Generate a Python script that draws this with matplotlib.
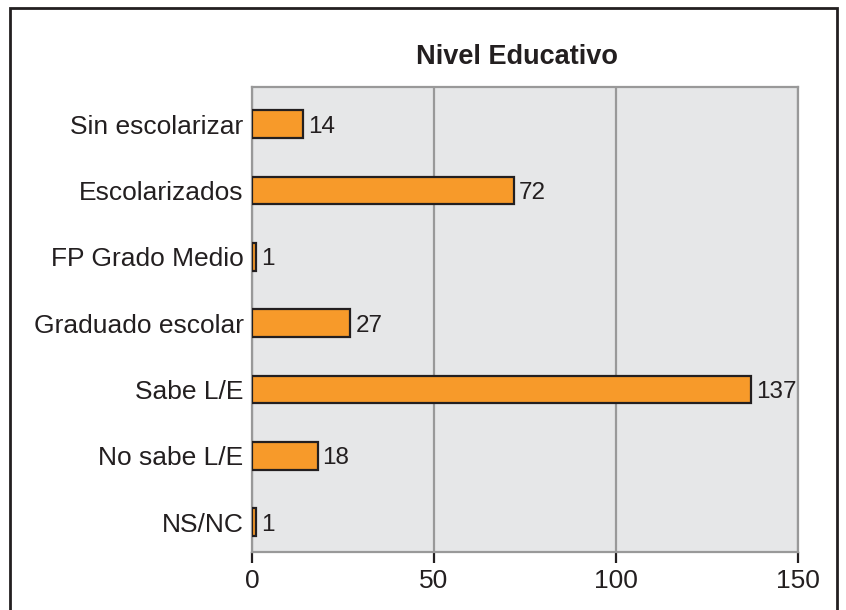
import matplotlib
matplotlib.use("Agg")
import matplotlib.pyplot as plt
from matplotlib.patches import Rectangle

categories = ["Sin escolarizar", "Escolarizados", "FP Grado Medio", "Graduado escolar",
              "Sabe L/E", "No sabe L/E", "NS/NC"]
values = [14, 72, 1, 27, 137, 18, 1]
xticks = [0, 50, 100, 150]
title = "Nivel Educativo"

plt.rcParams['font.family'] = ['Liberation Sans', 'DejaVu Sans']

W, H = 846, 610
fig = plt.figure(figsize=(W/100, H/100), dpi=100)
fig.patch.set_facecolor("white")

left, right, top, bottom = 252, 798, 87, 552
ax = fig.add_axes([left/W, 1-bottom/H, (right-left)/W, (bottom-top)/H])
ax.set_facecolor("#E6E7E8")

FS = 19
y = list(range(len(categories)))
ax.barh(y, values, height=0.42, color="#F79A2A", edgecolor="#231F20", linewidth=1.6, zorder=3)
for yi, v in zip(y, values):
    ax.text(v + 1.4, yi, str(v), va="center_baseline", ha="left", fontsize=17.5, color="#231F20", zorder=4)

ax.set_xlim(0, 150)
ax.set_ylim(6.45, -0.56)
ax.set_yticks(y)
ax.set_yticklabels(categories, fontsize=FS, color="#231F20", va="center_baseline")
ax.tick_params(axis="y", length=0, pad=6)
ax.set_xticks(xticks)
ax.set_xticklabels([str(t) for t in xticks], fontsize=FS, color="#231F20")
ax.tick_params(axis="x", length=8, width=1.6, color="#231F20", pad=4, direction="out")
ax.grid(axis="x", color="#999999", linewidth=1.6, zorder=1)
ax.set_axisbelow(True)
for s in ax.spines.values():
    s.set_color("#999999")
    s.set_linewidth(1.6)

fig.text(517/W, 1-57/H, title, ha="center", va="center", fontsize=19.5, fontweight="bold", color="#231F20")

fig.patches.append(Rectangle((10/W, -0.05), (837-10)/W, 1-8/H+0.05, transform=fig.transFigure,
                             fill=False, edgecolor="#231F20", linewidth=2, clip_on=False))

fig.savefig("out.png", dpi=100)
